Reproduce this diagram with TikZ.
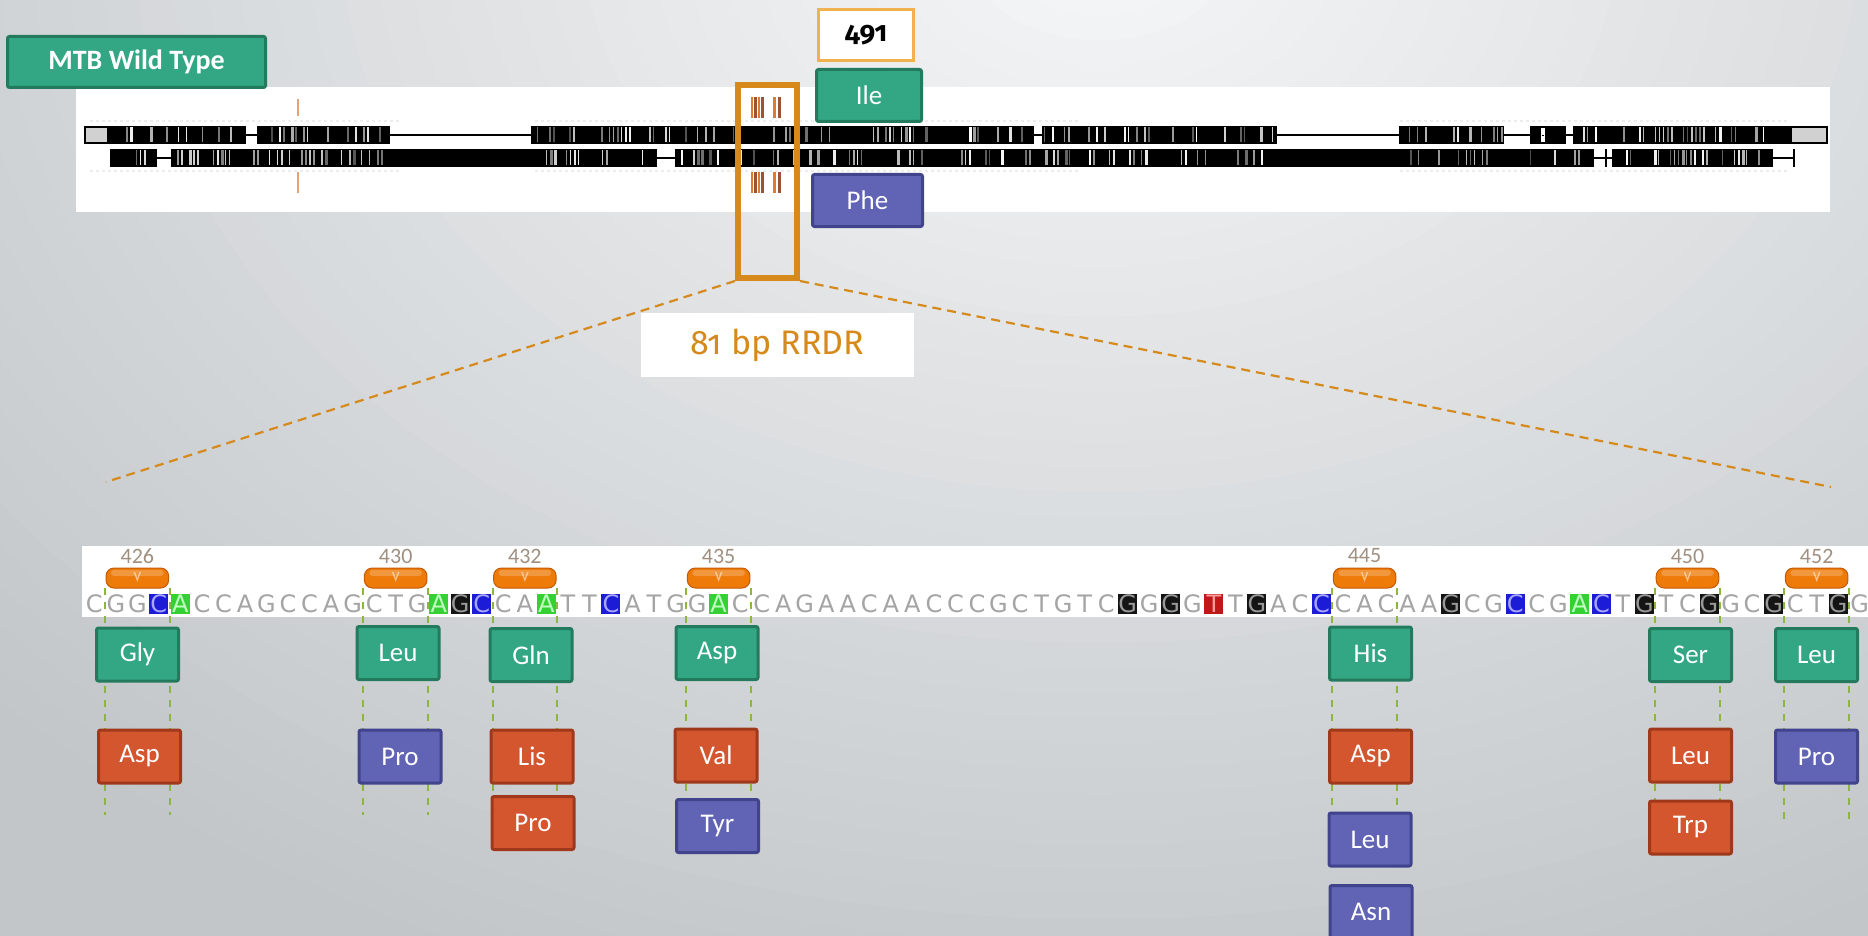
\documentclass[tikz,border=0pt]{standalone}
\usepackage{fontspec}
\setmainfont{Carlito}
\newfontfamily\osf{Fira Sans}[Numbers=OldStyle]
\newfontfamily\seqfont{DejaVu Sans}

\definecolor{bgtop}{HTML}{F6F7F8}
\definecolor{bgedge}{HTML}{C2C6C9}
\definecolor{wtgreen}{HTML}{33A784}
\definecolor{wtgreenD}{HTML}{237A5D}
\definecolor{mutorange}{HTML}{D4562F}
\definecolor{mutorangeD}{HTML}{A0391C}
\definecolor{mutpurple}{HTML}{6163B5}
\definecolor{mutpurpleD}{HTML}{41438C}
\definecolor{rrdrorange}{HTML}{D68A1C}
\definecolor{boxgold}{HTML}{F0B24E}
\definecolor{guide}{HTML}{8DB63C}
\definecolor{seqgray}{HTML}{A4A4A4}
\definecolor{hlblue}{HTML}{1C1CD6}
\definecolor{hlgreen}{HTML}{34D034}
\definecolor{hlred}{HTML}{C01818}
\definecolor{numgray}{HTML}{A09080}
\definecolor{pillM}{HTML}{EE7A08}
\definecolor{pillB}{HTML}{C45A06}
\definecolor{markA}{HTML}{E27A2C}
\definecolor{markB}{HTML}{9C5238}

% white/grey stripes inside a black gene block: from x #1 to x #2, centre y #3
\newcommand\barcode[3]{%
  \pgfmathsetmacro\bcA{#1+2}%
  \pgfmathsetmacro\bcB{#1+6}%
  \pgfmathsetmacro\bcC{#2-3}%
  \foreach \xx in {\bcA,\bcB,...,\bcC}{%
    \pgfmathsetmacro\bcP{rnd}%
    \ifdim\bcP pt<0.4pt
      \pgfmathsetmacro\bcG{30+70*rnd}%
      \pgfmathsetmacro\bcW{0.8+2*rnd}%
      \fill[white!\bcG!black] (\xx,#3-7.5) rectangle ++(\bcW,15);%
    \fi}}

\tikzset{
  aabox/.style={draw, line width=3pt, rounded corners=2pt, inner sep=0pt,
    minimum width=82pt, minimum height=53pt, text=white,
    font=\fontsize{27}{27}\selectfont},
  wt/.style={aabox, fill=wtgreen, draw=wtgreenD},
  mo/.style={aabox, fill=mutorange, draw=mutorangeD},
  mp/.style={aabox, fill=mutpurple, draw=mutpurpleD},
  guideline/.style={guide, line width=2pt, dash pattern=on 7pt off 7pt},
  zoomline/.style={rrdrorange, line width=2.2pt, dash pattern=on 9pt off 6pt},
  genebar/.style={line width=2pt},
  seqcell/.style={inner sep=0pt, minimum width=19pt, minimum height=20pt,
    font=\seqfont\fontsize{24}{24}\selectfont},
  hl-n/.style={text=seqgray},
  hl-b/.style={fill=hlblue, text=blue!35!white},
  hl-g/.style={fill=hlgreen, text=green!25!white},
  hl-k/.style={fill=black!92, text=black!40},
  hl-r/.style={fill=hlred, text=red!40!white},
}

\begin{document}
\begin{tikzpicture}[x=1pt,y=-1pt]
\useasboundingbox (0,0) rectangle (1868,936);

% background: soft glow from the top centre, built from nested ellipses
\begin{scope}
  \clip (0,0) rectangle (1868,936);
  \fill[bgedge] (0,0) rectangle (1868,936);
  \foreach \k in {0,...,44}{
    \pgfmathsetmacro\rr{1-\k/45}
    \pgfmathsetmacro\pc{100*(1-\rr)}
    \fill[bgtop!\pc!bgedge] (1100,-60) ellipse [x radius=1550*\rr, y radius=1130*\rr];
  }
\end{scope}

% ---------- whole gene view ----------
\fill[white] (76,87) rectangle (1830,212);

% faint ruler ticks
\foreach \ya in {121,171}{
  \draw[black!7, line width=2pt, dash pattern=on 3pt off 3pt] (90,\ya) -- (400,\ya);
  \draw[black!7, line width=2pt, dash pattern=on 3pt off 3pt] (535,\ya) -- (1080,\ya);
  \draw[black!7, line width=2pt, dash pattern=on 3pt off 3pt] (1400,\ya) -- (1790,\ya);
}

\pgfmathsetseed{4217}
% row 1
\draw[genebar] (84,135) -- (1827,135);
\foreach \a/\b in {84/246,257/390,531/1034,1042/1277,1399/1504,1530/1566,1573/1791}
  \fill[black] (\a,126) rectangle (\b,144);
\foreach \a/\b in {108/246,257/390,531/1034,1042/1277,1399/1504,1573/1791}
  \barcode{\a}{\b}{135};
\fill[white] (1541,128) rectangle (1545,142);
\fill[black] (1542,135) rectangle (1544,135.8);
\filldraw[fill=black!18, draw=black, line width=1.5pt] (85,127) rectangle (108,143);
\filldraw[fill=black!18, draw=black, line width=1.5pt] (1791,127) rectangle (1827,143);

% row 2
\draw[genebar] (110,158) -- (1794,158);
\foreach \a/\b in {110/157,171/657,675/1594,1612/1773}
  \fill[black] (\a,149) rectangle (\b,167);
\foreach \a/\b in {110/157,171/390,540/657,675/1280,1408/1504,1528/1594,1612/1773}
  \barcode{\a}{\b}{158};
\draw[line width=2pt] (1606,149) -- (1606,167);
\draw[line width=2pt] (1794,149) -- (1794,167);

% variant marks above and below the strands
\foreach \xa/\cc in {752/markA,755.5/markB,759/markA,762.5/markB,774.5/markA,779.5/markB}{
  \draw[\cc, line width=2.4pt] (\xa,97) -- (\xa,118);
  \draw[\cc, line width=2.4pt] (\xa,172) -- (\xa,193);
}
\draw[markA!70!white, line width=1.6pt] (298,99) -- (298,116);
\draw[markA!70!white, line width=1.6pt] (298,172) -- (298,193);

% RRDR window
\node[draw=rrdrorange, line width=6pt, minimum width=59pt, minimum height=193pt,
      inner sep=0pt] (rrdr) at (767.5,181.5) {};

% title and codon 491 call-out
\node[wt, minimum width=258pt, minimum height=51pt, font=\bfseries\fontsize{28}{28}\selectfont]
  (wtlabel) at (136.5,62) {MTB Wild Type};
\node[draw=boxgold, fill=white, line width=3pt, minimum width=95pt, minimum height=51pt,
      inner sep=0pt, font=\osf\bfseries\fontsize{28}{28}\selectfont] (c491) at (866,35) {491};
\node[wt, minimum width=105pt, minimum height=52pt] (ile) at (869,95.5) {Ile};
\node[mp, minimum width=110pt, minimum height=52pt] (phe) at (867.5,200.5) {Phe};

% zoom lines and label
\coordinate (seqL) at (106,482);
\coordinate (seqR) at (1831,487);
\draw[zoomline] (rrdr.south west) -- (seqL);
\draw[zoomline] (rrdr.south east) -- (seqR);
\node[fill=white, minimum width=273pt, minimum height=64pt, inner sep=0pt,
      text=rrdrorange, font=\osf\fontsize{34}{34}\selectfont] (rrdrlabel) at (777.5,345) {81 bp RRDR};

% ---------- RRDR sequence ----------
\fill[white] (82,546) rectangle (1868,617);
\foreach \sq/\hh [count=\i from 0] in {C/n,G/n,G/n,C/b,A/g,C/n,C/n,A/n,G/n,C/n,C/n,A/n,G/n,C/n,T/n,G/n,A/g,G/k,C/b,C/n,A/n,A/g,T/n,T/n,C/b,A/n,T/n,G/n,G/n,A/g,C/n,C/n,A/n,G/n,A/n,A/n,C/n,A/n,A/n,C/n,C/n,C/n,G/n,C/n,T/n,G/n,T/n,C/n,G/k,G/n,G/k,G/n,T/r,T/n,G/k,A/n,C/n,C/b,C/n,A/n,C/n,A/n,A/n,G/k,C/n,G/n,C/b,C/n,G/n,A/g,C/b,T/n,G/k,T/n,C/n,G/k,G/n,C/n,G/k,C/n,T/n,G/k,G/n}{
  \pgfmathsetmacro\cx{83.5+\i*21.53+10.77}
  \node[seqcell, hl-\hh] (s\i) at (\cx,604) {\sq};
}

% codon markers, numbers and guide lines
\foreach \num/\idx/\yb in {426/1/815,430/13/815,432/19/796,435/28/798,445/58/812,450/73/800,452/79/822}{
  \pgfmathsetmacro\cl{83.5+\idx*21.53}
  \pgfmathsetmacro\cr{\cl+64.6}
  \pgfmathsetmacro\cm{\cl+32.3}
  \filldraw[fill=pillM, draw=pillB, line width=1pt, rounded corners=8pt]
    (\cl+1,568) rectangle (\cr-1,588);
  \fill[white, opacity=0.22, rounded corners=3pt] (\cl+6,570) rectangle (\cr-6,576);
  \draw[white, opacity=0.5, line width=1.4pt] (\cm-3,572) -- (\cm,580) -- (\cm+3,572);
  \node[text=numgray, font=\fontsize{22}{22}\selectfont] (n\num) at (\cm,556) {\num};
  \coordinate (gtl\num) at (\cl,588);
  \coordinate (gbl\num) at (\cl,\yb);
  \coordinate (gtr\num) at (\cr,588);
  \coordinate (gbr\num) at (\cr,\yb);
  \draw[guideline] (gtl\num) -- (gbl\num);
  \draw[guideline] (gtr\num) -- (gbr\num);
}

% ---------- amino acid changes ----------
\node[wt] (w426) at (137.5,654.5) {Gly};
\node[mo] (m426a) at (139.5,756.5) {Asp};

\node[wt] (w430) at (398,653) {Leu};
\node[mp] (m430a) at (400,756.5) {Pro};

\node[wt] (w432) at (531,655) {Gln};
\node[mo] (m432a) at (532,756.5) {Lis};
\node[mo] (m432b) at (533,823) {Pro};

\node[wt] (w435) at (717,653) {Asp};
\node[mo] (m435a) at (716,755.5) {Val};
\node[mp] (m435b) at (717.5,826) {Tyr};

\node[wt] (w445) at (1370.5,653.5) {His};
\node[mo] (m445a) at (1370.5,756.5) {Asp};
\node[mp] (m445b) at (1370,839.5) {Leu};
\node[mp] (m445c) at (1371,912) {Asn};

\node[wt] (w450) at (1690.5,655) {Ser};
\node[mo] (m450a) at (1690.5,755.5) {Leu};
\node[mo] (m450b) at (1690.5,827.5) {Trp};

\node[wt] (w452) at (1816.5,655) {Leu};
\node[mp] (m452a) at (1816.5,756.5) {Pro};
\end{tikzpicture}
\end{document}
